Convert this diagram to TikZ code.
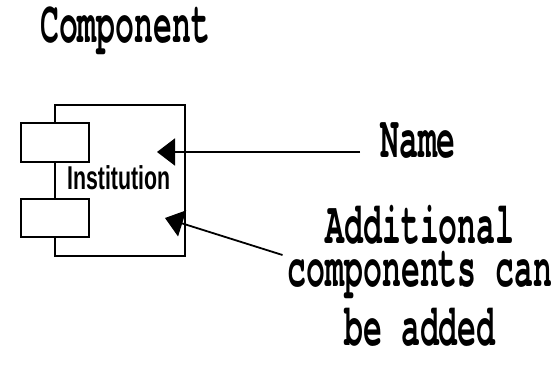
\documentclass[tikz,border=0pt]{standalone}
\usepackage{fontspec}
\setmainfont{Liberation Serif}
\newfontfamily\monofont{TeX Gyre Cursor}
\newfontfamily\labelfont{Liberation Sans}
\usetikzlibrary{arrows.meta}
\begin{document}
\begin{tikzpicture}[x=1pt,y=-1pt,
  boxline/.style={draw=black,line width=1.6pt,inner sep=0pt},
  port/.style={boxline,fill=white,minimum width=68pt,minimum height=38.5pt},
  note/.style={inner sep=0pt,font=\monofont\bfseries\fontsize{31.5}{22.5}\selectfont,yscale=1.9,transform shape},
  pointer/.style={line width=1.8pt,-{Triangle[length=18pt,width=27pt]}}]
\useasboundingbox[fill=white] (0,0) rectangle (558,374);

% component body and its two ports
\node[boxline,minimum width=130pt,minimum height=151pt] (body) at (120,180.5) {};
\node[port] (porta) at (55,142.5) {};
\node[port] (portb) at (55,218) {};
\node[inner sep=0pt,anchor=base west,font=\labelfont\bfseries\fontsize{21.3}{21.3}\selectfont,yscale=1.55,transform shape] (iname) at (67,190) {Institution};

% labels
\node[note,anchor=base west] (title) at (40,42.5) {Component};
\node[note,anchor=base west] (name) at (380,158) {Name};
\node[note,align=center,anchor=north] (extra) at (420,205) {Additional\\components can\\[4pt]be added};

% pointers into the body
\coordinate (nametip) at (157,152);
\coordinate (extratip) at (165,218);
\draw[pointer] ([shift={(-20,-6)}]name.base west) -- (nametip);
\draw[pointer] ([shift={(-5,-2)}]extra.north west |- 0,257) -- (extratip);
\end{tikzpicture}
\end{document}
